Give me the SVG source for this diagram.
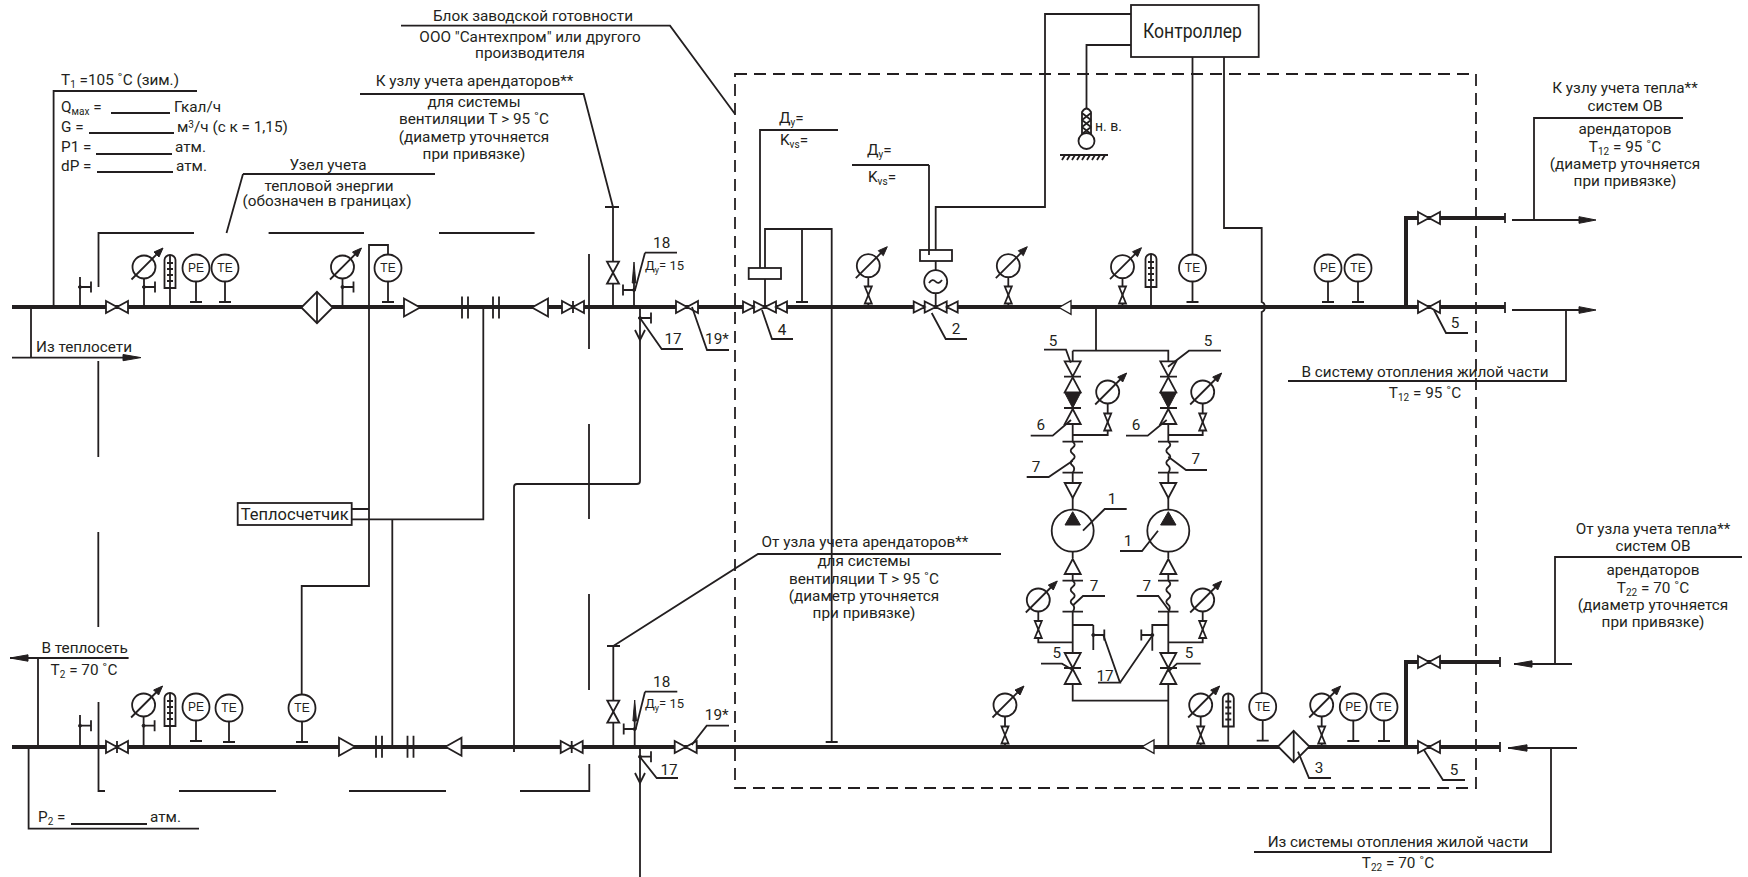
<svg xmlns="http://www.w3.org/2000/svg" width="1748" height="877" viewBox="0 0 1748 877">
<style>
.w{fill:none;stroke:#231f20;stroke-width:1.8}
.p{fill:none;stroke:#231f20;stroke-width:4}
.o{fill:#fff;stroke:#231f20;stroke-width:1.8}
.k{fill:#231f20;stroke:#231f20;stroke-width:1}
.d{fill:none;stroke:#231f20;stroke-width:1.8;stroke-dasharray:12 7}
text{font-family:Roboto,"Liberation Sans",sans-serif;font-size:15.3px;fill:#231f20}
.m{text-anchor:middle}
.s{font-size:13px}
.c{font-family:"Liberation Sans",sans-serif;font-size:12px;text-anchor:middle}
</style>
<defs>
<g id="gauge"><circle class="o" r="11.5"/><path class="w" d="M-12.5,12.5L14,-14"/><path class="k" d="M19,-19L10,-15L15,-10Z"/></g>
<g id="mv"><path class="o" d="M-3.5,-8.5H3.5L-3.5,8.5H3.5Z"/></g>
<g id="vh"><path class="o" d="M-11,-6V6L0,0ZM11,-6V6L0,0Z"/></g>
<g id="vv"><path class="o" d="M-6,-11H6L0,0ZM-6,11H6L0,0Z"/></g>
<g id="vt"><use href="#vh"/><path class="w" d="M0,-6V6"/></g>
<g id="v4"><path class="o" d="M-22,-5.5V5.5L-11,0ZM-11,-5.5V5.5L0,0ZM22,-5.5V5.5L11,0ZM11,-5.5V5.5L0,0Z"/></g>
<g id="th"><path class="o" d="M-5.5,33V5A5.5,5 0 0 1 5.500,5V33Z"/><path class="w" d="M0,0V33M-3,8H3M-3,14H3M-3,20H3M-3,26H3"/></g>
<g id="inst"><path class="w" d="M0,0V34M-6,34H6"/><circle class="o" r="13.5"/></g>
<g id="ht"><path class="w" d="M0,0H11M11,-5.5V5.5"/><circle class="k" r="1.5"/></g>
<g id="ftr"><path class="o" d="M0,-15.7L15.7,0L0,15.7L-15.7,0Z"/><path class="w" d="M0,-15.7V15.7"/></g>
<g id="cr"><path class="o" stroke-width="2.2" d="M-8,-9V9L8,0Z"/></g>
<g id="cl"><path class="o" stroke-width="2.2" d="M8,-9V9L-8,0Z"/></g>
<g id="fl"><path class="w" d="M-3,-11V11M3,-11V11"/></g>
<path id="sq" class="w" stroke-width="2.2" d="M0,0q4,3 0,6q-4,3 0,6q4,3 0,6q-4,3 0,6q3,3 0,7"/>
<g id="tup"><path class="o" d="M-8,7.5H8L0,-7.5Z"/></g>
<g id="tdn"><path class="o" d="M-8,-7.5H8L0,7.5Z"/></g>
</defs>

<g id="connectors">
<path class="p" d="M12,307H1505M1406,307V218H1505M12,747H1500M1406,747V662H1500"/>
<path class="w" stroke-width="2" d="M1505,302V313M1505,213V223M1500,657V667M1500,742V752"/>
<path class="d" d="M735,74H1476V788H735Z"/>
<path class="w" d="M98.5,287V233H194M268.6,233H364M439,233H534.6M589,254V349M589,424V519M589,594V690M98.3,361V457M98.3,532V627M98.5,702V791H105M179,791H276M349,791H446M520,791H589.3V764"/>
<path class="w" d="M388,268V245H369V586H301.7V708M351.7,509H369M351.7,519.3H483.3V307M392.3,519.3V747"/>
<path class="w" d="M640,307V481q0,3 -3,3H517q-3,0 -3,3V752"/>
<path class="w" d="M613,207V307M605,207H619M613.3,646V747M607,646H620"/>
<path class="w" d="M634,307V272M634.7,747V710M640,747V877"/>
<path class="k" d="M634,262L632.2,283H635.8ZM634.7,700L632.9,721H636.5Z"/>
<path class="w" d="M635,330L640,340L645,330M635,773L640,783L645,773"/>
<path class="w" d="M765,307V229H831.7V742M825.7,742H837.7M802,229V302M796,302H808"/>
<path class="w" d="M935.7,307V207H1045V14H1131M1131,45H1086.5V115M1192.5,57V255M1224,57V228H1261.7V302q3,1 3,4v2q0,3 -3,4V695"/>
<path class="w" d="M1096,307V350.7M1072.7,350.7H1168.3V361M1072.7,350.7V361M1072.7,425V441.7M1168.3,425V441.7M1072.7,435H1107.7V402M1168.3,435H1202.7V402M1072.7,472.7V483M1168.3,472.7V483M1072.7,498V511M1168.3,498V511M1072.7,551V558M1168.3,551V558M1072.7,575V580.7M1168.3,575V580.7M1072.7,611.7V652.7M1168.3,611.7V652.7M1072.7,625H1093.3M1093.3,625V650M1168.3,625H1152.3V650.7M1072.7,642.3H1038.3V612M1168.3,642.3H1202.7V612M1072.7,685V700.7H1168.3M1168.3,685V747"/>
<path class="w" d="M1062.5,441.7H1083M1158,441.7H1178.5M1062.5,472.7H1083M1158,472.7H1178.5M1062.5,580.7H1083M1158,580.7H1178.5M1062.5,611.7H1083M1158,611.7H1178.5M1064,376.7H1081M1160,376.7H1177M1064,408H1081M1160,408H1177M1064,668H1081M1160,668H1177"/>
</g>

<g id="top-line-nodes">
<g id="n1"><path class="w" d="M80,307V277"/><use href="#ht" x="80" y="287"/><use href="#vh" x="117" y="307"/></g>
<g id="n2"><path class="w" d="M144,307V278"/><use href="#gauge" x="144" y="267"/><use href="#ht" x="144" y="287"/></g>
<g id="n3"><path class="w" d="M170,307V288"/><use href="#th" x="170" y="255"/></g>
<g id="n4"><use href="#inst" x="196" y="268"/><text class="c" x="196" y="272">PE</text></g>
<g id="n5"><use href="#inst" x="225" y="268"/><text class="c" x="225" y="272">TE</text></g>
<g id="n6"><use href="#ftr" x="317" y="307.5"/></g>
<g id="n7"><path class="w" d="M342.5,307V278"/><use href="#gauge" x="342.5" y="267"/><use href="#ht" x="342.5" y="287"/></g>
<g id="n8"><use href="#inst" x="388" y="268"/><text class="c" x="388" y="272">TE</text></g>
<g id="n9"><use href="#cr" x="412" y="307.5"/><use href="#fl" x="465" y="307.5"/><use href="#fl" x="496" y="307.5"/><use href="#cl" x="540" y="307.5"/><use href="#vt" x="573" y="307"/></g>
<g id="n10"><use href="#vv" x="613" y="272.7"/><use href="#ht" transform="translate(634,290) scale(-1,1)"/><use href="#ht" x="640" y="318"/></g>
<g id="n11"><use href="#vh" x="687" y="307"/></g>
<g id="n12"><use href="#v4" x="765" y="307"/><rect class="o" x="748.7" y="268" width="32.3" height="11"/></g>
<g id="n13"><path class="w" d="M868.3,307V277"/><use href="#gauge" x="868.3" y="265.7"/><use href="#mv" x="868.3" y="295"/></g>
<g id="n14"><use href="#v4" x="935.7" y="307"/><rect class="o" x="920" y="250" width="32" height="11"/><path class="w" d="M929,255V165"/><circle class="o" cx="935.7" cy="281.7" r="11.5"/><path class="w" d="M929,283q3.5,-5 6.5,-1.5t6.5,-1.5"/></g>
<g id="n15"><path class="w" d="M1008.3,307V277"/><use href="#gauge" x="1008.3" y="265.7"/><use href="#mv" x="1008.3" y="295"/></g>
<g id="n16"><use href="#cl" transform="translate(1065,307.5) scale(.75)"/></g>
<g id="n17"><path class="w" d="M1122.5,307V278"/><use href="#gauge" x="1122.5" y="266.7"/><use href="#mv" x="1122.5" y="295"/></g>
<g id="n18"><path class="w" d="M1151,307V287"/><use href="#th" x="1151" y="254"/></g>
<g id="n19"><use href="#inst" x="1192.5" y="268"/><text class="c" x="1192.5" y="272">TE</text></g>
<g id="n20"><use href="#inst" x="1328" y="268"/><text class="c" x="1328" y="272">PE</text></g>
<g id="n21"><use href="#inst" x="1358" y="268"/><text class="c" x="1358" y="272">TE</text></g>
<g id="n22"><use href="#vh" x="1429" y="218"/><use href="#vh" x="1429" y="307"/></g>
</g>

<g id="controller"><rect class="o" x="1131" y="5" width="127.7" height="52"/><text x="1143" y="38" style="font-size:20px" textLength="99" lengthAdjust="spacingAndGlyphs">Контроллер</text></g>
<g id="outdoor"><path class="o" d="M1082,136V112q4.5,-7 9,0V136Z"/><path class="w" d="M1082,113L1091,120M1091,113L1082,120M1082,120L1091,127M1091,120L1082,127M1082,127L1091,134M1091,127L1082,134"/><circle class="o" cx="1086.5" cy="141" r="8"/><path class="w" d="M1060,155H1108M1062,160l3,-5M1067,160l3,-5M1072,160l3,-5M1077,160l3,-5M1082,160l3,-5M1087,160l3,-5M1092,160l3,-5M1097,160l3,-5M1102,160l3,-5"/><text x="1095" y="131" style="font-size:14px">н. в.</text></g>

<g id="pumps">
<g id="pumpA"><use href="#tdn" x="1072.7" y="368.8"/><use href="#tup" x="1072.7" y="384.8"/><path class="k" d="M1064.7,392.7H1080.7L1072.7,408Z"/><use href="#tup" x="1072.7" y="416.5"/><use href="#sq" x="1072.7" y="441.7"/><use href="#tdn" x="1072.7" y="490.5"/><circle class="o" cx="1072.7" cy="530.7" r="21"/><path class="k" d="M1065,525H1080.4L1072.7,511.7Z"/><use href="#tup" x="1072.7" y="566.5"/><use href="#sq" x="1072.7" y="580.7"/><use href="#ht" x="1093.3" y="635"/><use href="#tdn" x="1072.7" y="660.5"/><use href="#tup" x="1072.7" y="676.5"/></g>
<g id="pumpB"><use href="#tdn" x="1168.3" y="368.8"/><use href="#tup" x="1168.3" y="384.8"/><path class="k" d="M1160.3,392.7H1176.3L1168.3,408Z"/><use href="#tup" x="1168.3" y="416.5"/><use href="#sq" x="1168.3" y="441.7"/><use href="#tdn" x="1168.3" y="490.5"/><circle class="o" cx="1168.3" cy="530.7" r="21"/><path class="k" d="M1160.6,525H1176L1168.3,511.7Z"/><use href="#tup" x="1168.3" y="566.5"/><use href="#sq" x="1168.3" y="580.7"/><use href="#ht" transform="translate(1152.3,635) scale(-1,1)"/><use href="#tdn" x="1168.3" y="660.5"/><use href="#tup" x="1168.3" y="676.5"/></g>
<g id="g1"><use href="#gauge" x="1107.7" y="392"/><use href="#mv" x="1107.7" y="422"/></g>
<g id="g2"><use href="#gauge" x="1202.7" y="392"/><use href="#mv" x="1202.7" y="422"/></g>
<g id="g3"><use href="#gauge" x="1038.3" y="600"/><use href="#mv" x="1038.3" y="629.5"/></g>
<g id="g4"><use href="#gauge" x="1202.7" y="600"/><use href="#mv" x="1202.7" y="629.5"/></g>
</g>

<g id="bottom-line-nodes">
<g id="b1"><path class="w" d="M80,747V715"/><use href="#ht" x="80" y="725.7"/><use href="#vt" x="117" y="747"/></g>
<g id="b2"><path class="w" d="M143.6,747V716"/><use href="#gauge" x="143.6" y="705"/><use href="#ht" x="143.6" y="725.7"/></g>
<g id="b3"><path class="w" d="M170,747V726"/><use href="#th" x="170" y="693"/></g>
<g id="b4"><use href="#inst" x="196" y="707"/><text class="c" x="196" y="711">PE</text></g>
<g id="b5"><use href="#inst" x="229" y="708"/><text class="c" x="229" y="712">TE</text></g>
<g id="b6"><use href="#inst" x="302" y="708"/><text class="c" x="302" y="712">TE</text></g>
<g id="b7"><use href="#cr" x="347" y="746.7"/><use href="#fl" x="379" y="746.7"/><use href="#fl" x="410.5" y="746.7"/><use href="#cl" x="453.5" y="746.7"/><use href="#vt" x="571.7" y="747"/></g>
<g id="b8"><use href="#vv" x="613.3" y="711.7"/><use href="#ht" transform="translate(634.7,729) scale(-1,1)"/><use href="#ht" x="640" y="756.7"/></g>
<g id="b9"><use href="#vh" x="685.7" y="747"/></g>
<g id="b10"><path class="w" d="M1005,747V716"/><use href="#gauge" x="1005" y="705"/><use href="#mv" x="1005" y="735"/></g>
<g id="b11"><use href="#cl" transform="translate(1148,746.7) scale(.75)"/></g>
<g id="b12"><path class="w" d="M1200.7,747V716"/><use href="#gauge" x="1200.7" y="705"/><use href="#mv" x="1200.7" y="735"/></g>
<g id="b13"><path class="w" d="M1228.3,747V726"/><use href="#th" x="1228.3" y="693.5"/></g>
<g id="b14"><use href="#inst" x="1262.7" y="706.7"/><text class="c" x="1262.7" y="711">TE</text></g>
<g id="b15"><use href="#ftr" x="1293.7" y="746.5"/></g>
<g id="b16"><path class="w" d="M1321.7,747V716"/><use href="#gauge" x="1321.7" y="705"/><use href="#mv" x="1321.7" y="735"/></g>
<g id="b17"><use href="#inst" x="1353.3" y="707"/><text class="c" x="1353.3" y="711">PE</text></g>
<g id="b18"><use href="#inst" x="1384" y="707"/><text class="c" x="1384" y="711">TE</text></g>
<g id="b19"><use href="#vh" x="1429" y="662"/><use href="#vh" x="1429" y="747"/></g>
</g>

<g id="meter"><rect class="o" x="237.7" y="503" width="114" height="22"/><text x="294.7" y="519.5" class="m" style="font-size:16.500px">Теплосчетчик</text></g>

<g id="leaders">
<path class="w" d="M53.6,307V91H197M12,357.6H123M31,307V357.6M243,174H435M243,174L226.5,233"/>
<path class="k" d="M123,354.5L141,357.6L123,360.7Z"/>
<path class="w" d="M360,94H583.6L613,207M401,25.6H670L735,114"/>
<path class="w" d="M645,252.7H677M645,252.7L635,290M640,318L661.7,349H683M692,307L707,350H729M760,268V130H838M762,310L772,339H793M852,165H929M931.7,313L945.7,339H967"/>
<path class="w" d="M1434,310L1446,333H1468M1534,220V118H1683M1566,310V381H1288M1512,220H1580M1512,310H1580"/>
<path class="k" d="M1579,216.7L1596,220L1579,223.3ZM1579,306.7L1596,310L1579,313.3Z"/>
<path class="w" d="M1044,349.7H1066L1070.7,362.7M1221,350.7H1189L1168,366.7M1030.7,435.7H1052.7L1071,420M1126,435.7H1147.7L1166.7,420M1026.7,477H1048.7L1072.7,460.7M1207,470H1186L1168.3,456.7M1126.7,509H1104.7L1083,530.7M1120,551H1142L1158,530.7"/>
<path class="w" d="M1041,663.7H1062L1072.7,670M1200.7,663.7H1177L1168.3,671.7M1105,596H1083L1073.3,605M1136.7,596H1158.3L1170,611.7M1098,682.7H1120L1103.3,635M1120,682.7L1152.7,635M1298,751.7L1309,778H1331M1424,750L1443,780H1465"/>
<path class="w" d="M1514,664H1572M1555,664V557H1742M1508,748H1577M1551,748V852H1254"/>
<path class="k" d="M1514,664L1532,660.8V667.2ZM1508,748L1527,744.8V751.2Z"/>
<path class="w" d="M10,658H128.6M38,658V747M28.6,747V828.7H199M613.3,646L758,554H1001"/>
<path class="k" d="M10,658L28,654.8V661.2Z"/>
<path class="w" d="M645,691.7H677.3M645,691.7L635.7,729M640,757L656.7,778H678M691.7,745L706.7,725.7H729"/>
<path class="w" d="M111,113H170M89,133H174M96,154H172M97,172H173M71,824H147"/>
</g>

<g id="labels">
<text x="61" y="85">T<tspan dy="3" style="font-size:10px">1</tspan><tspan dy="-3"> =105 ˚C (зим.)</tspan></text>
<text x="61" y="111.7">Q<tspan dy="3" style="font-size:10px">мах</tspan><tspan dy="-3"> =</tspan></text><text x="174" y="111.7">Гкал/ч</text>
<text x="61" y="131.7">G =</text><text x="177" y="131.7">м<tspan dy="-4" style="font-size:10px">3</tspan><tspan dy="4">/ч (с к = 1,15)</tspan></text>
<text x="61" y="152">P1 =</text><text x="175" y="152">атм.</text>
<text x="61" y="171">dP =</text><text x="176" y="171">атм.</text>
<text class="m" x="328" y="170">Узел учета</text><text class="m" x="329" y="191">тепловой энергии</text><text class="m" x="327" y="206">(обозначен в границах)</text>
<text class="m" x="474.5" y="86">К узлу учета арендаторов**</text><text class="m" x="474" y="106.7">для системы</text><text class="m" x="474" y="124">вентиляции T &gt; 95 ˚C</text><text class="m" x="474" y="141.7">(диаметр уточняется</text><text class="m" x="474" y="159">при привязке)</text>
<text class="m" x="533" y="21">Блок заводской готовности</text><text class="m" x="530" y="42">ООО "Сантехпром" или другого</text><text class="m" x="530" y="58">производителя</text>
<text x="36" y="352">Из теплосети</text>
<text class="m" x="84.6" y="653">В теплосеть</text><text class="m" x="84" y="675">T<tspan dy="3" style="font-size:10px">2</tspan><tspan dy="-3"> = 70 ˚C</tspan></text>
<text x="38" y="821.7">P<tspan dy="3" style="font-size:10px">2</tspan><tspan dy="-3"> =</tspan></text><text x="150" y="821.7">атм.</text>
<text x="779" y="122.7">Д<tspan dy="3" style="font-size:10px">у</tspan><tspan dy="-3">=</tspan></text><text x="780" y="145">K<tspan dy="3" style="font-size:10px">vs</tspan><tspan dy="-3">=</tspan></text>
<text x="867" y="155">Д<tspan dy="3" style="font-size:10px">у</tspan><tspan dy="-3">=</tspan></text><text x="868" y="181.6">K<tspan dy="3" style="font-size:10px">vs</tspan><tspan dy="-3">=</tspan></text>
<text class="m" x="661.7" y="248">18</text><text x="645" y="270" class="s">Д<tspan dy="3" style="font-size:9px">у</tspan><tspan dy="-3">= 15</tspan></text>
<text class="m" x="661.7" y="686.7">18</text><text x="645" y="708" class="s">Д<tspan dy="3" style="font-size:9px">у</tspan><tspan dy="-3">= 15</tspan></text>
<text class="m" x="673" y="344">17</text><text class="m" x="669" y="775">17</text><text class="m" x="1105" y="680.7">17</text>
<text class="m" x="717" y="344">19*</text><text class="m" x="716.7" y="720">19*</text>
<text class="m" x="782" y="335">4</text><text class="m" x="956" y="334">2</text><text class="m" x="1455" y="328">5</text><text class="m" x="1454" y="775">5</text><text class="m" x="1319" y="773">3</text>
<text class="m" x="1053" y="345.7">5</text><text class="m" x="1208" y="346">5</text><text class="m" x="1040.7" y="430">6</text><text class="m" x="1136" y="430">6</text><text class="m" x="1036" y="471.7">7</text><text class="m" x="1195.7" y="464">7</text><text class="m" x="1112" y="504">1</text><text class="m" x="1128" y="546">1</text><text class="m" x="1094" y="591">7</text><text class="m" x="1146.7" y="591">7</text><text class="m" x="1056.7" y="658">5</text><text class="m" x="1189" y="658">5</text>
<text class="m" x="1625" y="93">К узлу учета тепла**</text><text class="m" x="1625" y="111">систем ОВ</text><text class="m" x="1625" y="134">арендаторов</text><text class="m" x="1625" y="152">T<tspan dy="3" style="font-size:10px">12</tspan><tspan dy="-3"> = 95 ˚C</tspan></text><text class="m" x="1625" y="169">(диаметр уточняется</text><text class="m" x="1625" y="186">при привязке)</text>
<text class="m" x="1425" y="377">В систему отопления жилой части</text><text class="m" x="1425" y="398">T<tspan dy="3" style="font-size:10px">12</tspan><tspan dy="-3"> = 95 ˚C</tspan></text>
<text class="m" x="865" y="547">От узла учета арендаторов**</text><text class="m" x="864" y="566">для системы</text><text class="m" x="864" y="584">вентиляции T &gt; 95 ˚C</text><text class="m" x="864" y="601">(диаметр уточняется</text><text class="m" x="864" y="618">при привязке)</text>
<text class="m" x="1653" y="534">От узла учета тепла**</text><text class="m" x="1653" y="551.3">систем ОВ</text><text class="m" x="1653" y="575">арендаторов</text><text class="m" x="1653" y="592.7">T<tspan dy="3" style="font-size:10px">22</tspan><tspan dy="-3"> = 70 ˚C</tspan></text><text class="m" x="1653" y="610">(диаметр уточняется</text><text class="m" x="1653" y="627">при привязке)</text>
<text class="m" x="1398" y="847">Из системы отопления жилой части</text><text class="m" x="1398" y="868">T<tspan dy="3" style="font-size:10px">22</tspan><tspan dy="-3"> = 70 ˚C</tspan></text>
</g>
</svg>
